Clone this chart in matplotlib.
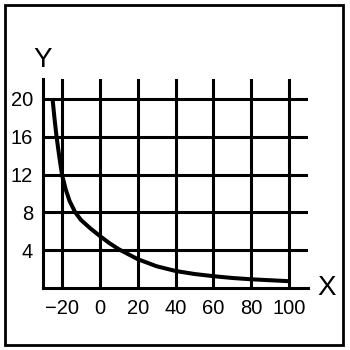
import matplotlib
matplotlib.use("Agg")
import matplotlib.pyplot as plt
from matplotlib.patches import Rectangle

x_vals = [-25, -24, -23, -22, -21, -20, -18, -16, -13, -10, -5, 0, 5, 10, 20, 30, 40, 50, 60, 70, 80, 90, 100]
y_vals = [20.0, 18.0, 16.2, 14.7, 13.3, 12.0, 10.4, 9.2, 8.0, 7.2, 6.3, 5.5, 4.75, 4.1, 3.05, 2.3, 1.8, 1.48, 1.25, 1.06, 0.92, 0.82, 0.72]
x_ticks = [-20, 0, 20, 40, 60, 80, 100]
y_ticks = [4, 8, 12, 16, 20]

plt.rcParams['font.family'] = ['Liberation Sans', 'DejaVu Sans']

fig = plt.figure(figsize=(3.5, 3.5), dpi=100)
ax = fig.add_axes([42.7/350, 62/350, (308-42.7)/350, (288-79)/350])

ax.plot(x_vals, y_vals, color='black', lw=2.9, solid_capstyle='butt', solid_joinstyle='round', zorder=3)
ax.set_xlim(-30.2, 110)
ax.set_ylim(0, 22.1)
ax.set_xticks(x_ticks)
ax.set_yticks(y_ticks)
ax.set_xticklabels(['\u2212' + str(-t) if t < 0 else str(t) for t in x_ticks])
ax.grid(True, color='black', lw=2.2)
ax.tick_params(length=0, labelsize=14.5, pad=7)
ax.tick_params(axis='x', pad=8)
for s in ['top', 'right']:
    ax.spines[s].set_visible(False)
for s in ['left', 'bottom']:
    ax.spines[s].set_linewidth(2.2)

fig.text(42.5/350, 1 - 60/350, 'Y', fontsize=20, ha='center', va='center')
fig.text(327/350, 1 - 288/350, 'X', fontsize=20, ha='center', va='center')

fig.patches.append(Rectangle((5/350, 5/350), 338/350, 340/350, transform=fig.transFigure,
                             fill=False, edgecolor='black', lw=2))

fig.savefig('out.png', dpi=100)
